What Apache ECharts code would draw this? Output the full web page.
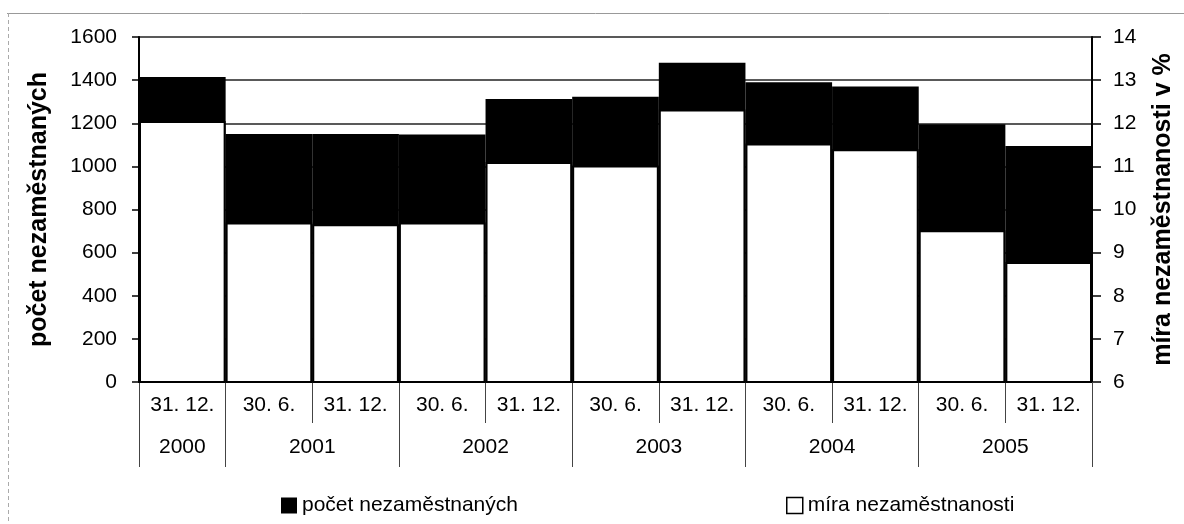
<!DOCTYPE html>
<html>
<head>
<meta charset="utf-8">
<script src="https://cdn.jsdelivr.net/npm/echarts@6/dist/echarts.min.js"></script>
<style>
html,body{margin:0;padding:0;background:#fff;}
#chart{width:1184px;height:524px;}
</style>
</head>
<body>
<div id="chart"></div>
<script>
// ---- data ----
const dates = ['31. 12.', '30. 6.', '31. 12.', '30. 6.', '31. 12.', '30. 6.', '31. 12.', '30. 6.', '31. 12.', '30. 6.', '31. 12.'];
const years = ['2000', '2001', '2002', '2003', '2004', '2005'];
const yearSpans = [1, 2, 2, 2, 2, 2]; // number of dates in each year
const countValues = [1415, 1150, 1150, 1148, 1312, 1323, 1481, 1390, 1370, 1195, 1095];
const rateValues = [12.05, 9.70, 9.66, 9.70, 11.10, 11.02, 12.32, 11.53, 11.40, 9.52, 8.78];
const countName = 'počet nezaměstnaných';
const rateName = 'míra nezaměstnanosti';
const leftAxisName = 'počet nezaměstnaných';
const rightAxisName = 'míra nezaměstnanosti v %';

// derived year boundaries / centres in category units
const yearBounds = [0];
const yearCenters = [];
yearSpans.forEach(s => { const a = yearBounds[yearBounds.length - 1]; yearCenters.push(a + s / 2); yearBounds.push(a + s); });

const FONT = "'Liberation Sans', Arial, sans-serif";
const TICK_FS = 21;
const chart = echarts.init(document.getElementById('chart'));
chart.setOption({
  animation: false,
  backgroundColor: '#fff',
  textStyle: { fontFamily: FONT, color: '#000' },
  grid: { left: 139, right: 87, top: 37, bottom: 142 },
  legend: [
    { left: 276, top: 490, icon: 'rect', itemWidth: 16, itemHeight: 16, itemGap: 6,
      textStyle: { fontFamily: FONT, fontSize: 21, color: '#000' },
      data: [{ name: countName, itemStyle: { color: '#000' } }] },
    { left: 781, top: 490, icon: 'rect', itemWidth: 16, itemHeight: 16, itemGap: 6,
      textStyle: { fontFamily: FONT, fontSize: 21, color: '#000' },
      data: [{ name: rateName, itemStyle: { color: '#fff', borderColor: '#000', borderWidth: 1.5 } }] }
  ],
  xAxis: [
    { type: 'category', data: dates, position: 'bottom',
      axisLine: { show: true, lineStyle: { color: '#000', width: 2 } },
      axisTick: { show: true, length: 41, lineStyle: { color: '#444', width: 1 } },
      axisLabel: { margin: 13, fontSize: TICK_FS, color: '#000', fontFamily: FONT },
      splitLine: { show: false } },
    { type: 'value', min: 0, max: dates.length, position: 'bottom',
      axisLine: { show: false },
      axisTick: { show: true, length: 85, customValues: yearBounds, lineStyle: { color: '#444', width: 1 } },
      axisLabel: { show: true, margin: 55, fontSize: TICK_FS, color: '#000', fontFamily: FONT,
        customValues: yearCenters,
        formatter: v => { const i = yearCenters.indexOf(v); return i >= 0 ? years[i] : ''; } },
      splitLine: { show: false } }
  ],
  yAxis: [
    { type: 'value', min: 0, max: 1600, interval: 200, position: 'left',
      name: leftAxisName, nameLocation: 'middle', nameGap: 87, nameRotate: 90,
      nameTextStyle: { fontFamily: FONT, fontSize: 25, fontWeight: 'bold', color: '#000' },
      axisLine: { show: true, lineStyle: { color: '#000', width: 2 } },
      axisTick: { show: true, length: 7, lineStyle: { color: '#000', width: 1.5 } },
      axisLabel: { margin: 22, fontSize: TICK_FS, color: '#000', fontFamily: FONT, formatter: v => String(v) },
      splitLine: { show: true, lineStyle: { color: '#222', width: 1.5 } } },
    { type: 'value', min: 6, max: 14, interval: 1, position: 'right',
      name: rightAxisName, nameLocation: 'middle', nameGap: 59, nameRotate: 90,
      nameTextStyle: { fontFamily: FONT, fontSize: 25, fontWeight: 'bold', color: '#000' },
      axisLine: { show: true, lineStyle: { color: '#000', width: 2 } },
      axisTick: { show: true, length: 9, lineStyle: { color: '#000', width: 1.5 } },
      axisLabel: { margin: 21, fontSize: TICK_FS, color: '#000', fontFamily: FONT },
      splitLine: { show: false } }
  ],
  series: [
    { name: countName, type: 'bar', xAxisIndex: 0, yAxisIndex: 0, data: countValues,
      barCategoryGap: '0%', barGap: '-100%', clip: true,
      itemStyle: { color: '#000' } },
    { name: rateName, type: 'bar', xAxisIndex: 0, yAxisIndex: 1, data: rateValues,
      barCategoryGap: '0%', barGap: '-100%', clip: true,
      itemStyle: { color: '#fff', borderColor: '#000', borderWidth: 2 } }
  ],
  graphic: [
    { type: 'line', shape: { x1: 7, y1: 13.5, x2: 1184, y2: 13.5 }, style: { stroke: '#999', lineWidth: 1 } },
    { type: 'line', shape: { x1: 8.5, y1: 13, x2: 8.5, y2: 524 }, style: { stroke: '#aaa', lineWidth: 1, lineDash: [4, 3] } }
  ]
});
</script>
</body>
</html>
